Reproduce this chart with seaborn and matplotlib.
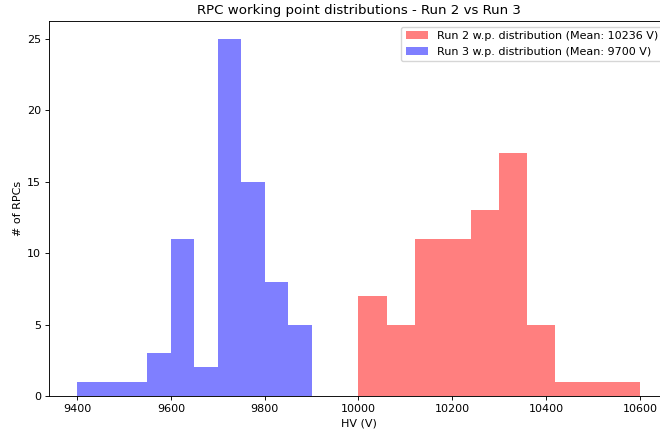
import numpy as np
import pandas as pd
import matplotlib
matplotlib.use("Agg")
import matplotlib.pyplot as plt
import seaborn as sns

# Run 2 histogram (10 bins, 10000-10600)
run2_edges = [10000, 10060, 10120, 10180, 10240, 10300, 10360, 10420, 10480, 10540, 10600]
run2_counts = [7, 5, 11, 11, 13, 17, 5, 1, 1, 1]
# Run 3 histogram (10 bins, 9400-9900)
run3_edges = [9400, 9450, 9500, 9550, 9600, 9650, 9700, 9750, 9800, 9850, 9900]
run3_counts = [1, 1, 1, 3, 11, 2, 25, 15, 8, 5]

labels = ["Run 2 w.p. distribution (Mean: 10236 V)",
          "Run 3 w.p. distribution (Mean: 9700 V)"]
title = "RPC working point distributions - Run 2 vs Run 3"
xlabel = "HV (V)"
ylabel = "# of RPCs"

plt.rcParams['font.family'] = ['DejaVu Sans']
plt.rcParams['xtick.major.size'] = 2.8
plt.rcParams['ytick.major.size'] = 2.8
plt.rcParams['xtick.major.pad'] = 2.8
plt.rcParams['ytick.major.pad'] = 2.8
plt.rcParams['xtick.major.width'] = 0.65
plt.rcParams['ytick.major.width'] = 0.65
plt.rcParams['axes.linewidth'] = 0.65
fig = plt.figure(figsize=(6.6, 4.34), dpi=100)
ax = fig.add_axes([49/660, 1 - 396/434, 619/660, (396 - 21)/434])

def centers(e):
    e = np.asarray(e, dtype=float)
    return (e[:-1] + e[1:]) / 2

df2 = pd.DataFrame({"hv": centers(run2_edges), "n": run2_counts})
df3 = pd.DataFrame({"hv": centers(run3_edges), "n": run3_counts})

sns.histplot(data=df2, x="hv", weights="n", bins=run2_edges, color="red",
             alpha=0.5, linewidth=0, ax=ax, label=labels[0])
sns.histplot(data=df3, x="hv", weights="n", bins=run3_edges, color="blue",
             alpha=0.5, linewidth=0, ax=ax, label=labels[1])

ax.set_xlim(9340, 10660)
ax.set_ylim(0, 26.25)
ax.set_xticks([9400, 9600, 9800, 10000, 10200, 10400, 10600])
ax.set_yticks([0, 5, 10, 15, 20, 25])
ax.tick_params(labelsize=8)
ax.set_title(title, fontsize=9.6, pad=4.8)
ax.set_xlabel(xlabel, fontsize=8, labelpad=3.2)
ax.set_ylabel(ylabel, fontsize=8, labelpad=3.2)
ax.legend(loc="upper right", fontsize=8)

fig.savefig("out.png", dpi=100)
